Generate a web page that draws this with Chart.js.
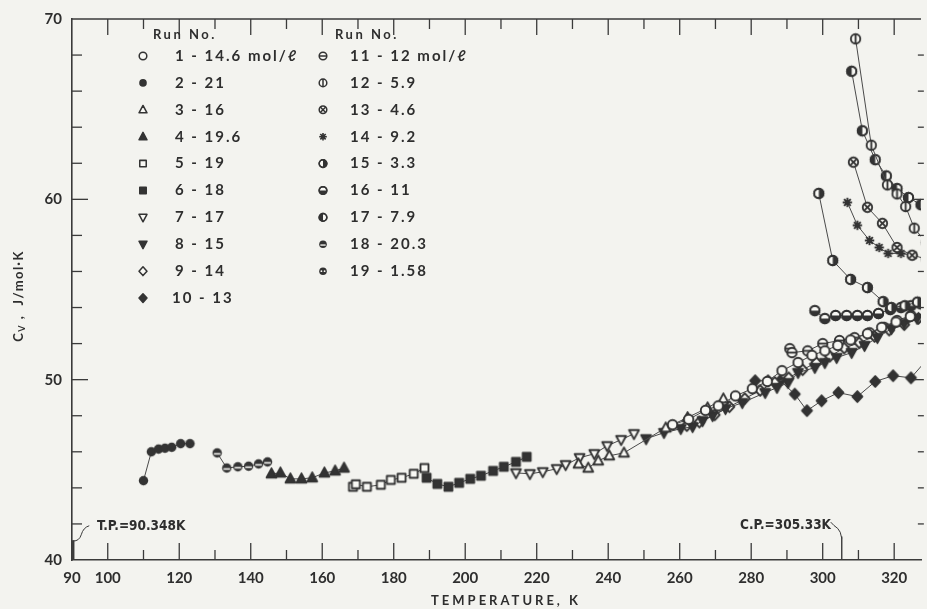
<!DOCTYPE html>
<html>
<head>
<meta charset="utf-8">
<script src="https://cdn.jsdelivr.net/npm/chart.js@4.4.0/dist/chart.umd.min.js"></script>
<style>
  html, body { margin: 0; padding: 0; background: #f3f3ef; }
</style>
</head>
<body>
<canvas id="grafico" width="927" height="609"></canvas>
<script>
// Cv of ethane along isochores; each run is [T (K), Cv (J/mol K)]
const run1 = [[258.0,47.5],[262.5,47.8],[267.2,48.3],[270.8,48.55],[275.6,49.1],[280.3,49.5],[284.5,49.9],[288.6,50.5],[293.1,50.95],[297.0,51.35],[300.6,51.6],[304.2,51.9],[307.8,52.2],[312.5,52.55],[316.5,52.9],[320.5,53.2],[324.5,53.5]];
const run2 = [[110.0,44.4],[112.2,46.0],[114.2,46.15],[116.0,46.2],[117.9,46.25],[120.4,46.45],[123.0,46.45]];
const run3 = [[231.7,45.33],[234.4,45.1],[237.2,45.5],[240.3,45.78],[244.4,45.94],[256.1,47.33],[262.2,47.9],[267.8,48.44],[272.2,48.94]];
const run4 = [[145.8,44.78],[148.3,44.83],[151.1,44.5],[154.2,44.5],[157.2,44.56],[160.6,44.83],[163.6,44.94],[166.1,45.1]];
const run5 = [[168.6,44.06],[169.4,44.2],[172.5,44.06],[176.4,44.17],[179.2,44.44],[182.2,44.56],[185.6,44.78],[188.6,45.1]];
const run6 = [[189.2,44.56],[192.2,44.22],[195.3,44.06],[198.3,44.28],[201.4,44.5],[204.4,44.67],[207.8,44.94],[210.8,45.17],[214.2,45.44],[217.2,45.72]];
const run7 = [[214.2,44.83],[218.1,44.78],[221.7,44.89],[225.6,45.06],[228.1,45.28],[232.0,45.67],[236.1,45.89],[239.7,46.33],[243.6,46.67],[247.2,47.0]];
const run8 = [[250.6,46.72],[255.6,47.06],[260.3,47.28],[263.6,47.39],[266.4,47.72],[269.2,48.0],[272.8,48.39],[277.5,48.72],[283.9,49.28],[287.2,49.56],[290.3,49.83],[293.1,50.39],[297.8,50.67],[300.6,50.94],[303.9,51.22],[308.1,51.5],[311.7,51.89],[315.3,52.33],[319.2,52.83],[322.8,53.11],[326.4,53.39]];
const run9 = [[262.0,47.45],[265.5,47.65],[269.8,48.05],[273.9,48.5],[278.2,48.95],[282.5,49.4],[286.6,49.85],[290.5,50.1],[294.4,50.55],[298.2,50.95],[302.0,51.3],[306.0,51.75],[310.2,52.05],[314.5,52.4],[318.6,52.75],[322.8,53.05],[326.8,53.4]];
const run10 = [[281.1,49.94],[284.7,49.94],[288.1,49.94],[292.2,49.2],[295.6,48.28],[299.7,48.83],[304.4,49.28],[309.7,49.06],[314.7,49.9],[319.7,50.22],[324.7,50.1],[330.0,51.3]];
const run11 = [[290.8,51.72],[291.4,51.5],[295.8,51.6],[300.0,52.0],[304.7,52.17],[308.9,52.33],[313.1,52.6],[317.2,52.9],[320.8,53.28],[324.7,53.56]];
const run12 = [[309.2,68.9],[313.6,63.0],[318.1,60.8],[320.8,60.3],[323.2,59.6],[325.6,58.4],[329.0,57.6]];
const run13 = [[308.6,62.06],[312.5,59.56],[316.7,58.67],[320.8,57.33],[325.0,56.9],[329.0,56.7]];
const run14 = [[306.9,59.83],[309.7,58.56],[313.1,57.72],[315.8,57.33],[318.3,57.0],[321.9,57.0],[325.3,56.9]];
const run15 = [[298.9,60.33],[302.8,56.61],[307.8,55.56],[312.5,55.11],[316.9,54.33],[319.2,54.0],[323.0,54.1],[326.5,54.3]];
const run16 = [[297.8,53.83],[300.6,53.39],[303.6,53.56],[306.7,53.56],[309.7,53.56],[312.5,53.56],[315.6,53.67],[318.9,53.89],[321.9,54.0],[324.7,54.1],[327.5,54.2]];
const run17 = [[308.1,67.1],[311.1,63.8],[314.7,62.2],[317.8,61.3],[320.8,60.6],[324.0,60.1],[327.5,59.7]];
const run18 = [[130.6,45.94],[133.3,45.1],[136.4,45.17],[139.4,45.2],[142.2,45.33],[144.7,45.44]];
const run19 = [];

const runLabels = ['1 - 14.6 mol/ℓ', '2 - 21', '3 - 16', '4 - 19.6', '5 - 19', '6 - 18', '7 - 17', '8 - 15', '9 - 14', '10 - 13',
                   '11 - 12 mol/ℓ', '12 - 5.9', '13 - 4.6', '14 - 9.2', '15 - 3.3', '16 - 11', '17 - 7.9', '18 - 20.3', '19 - 1.58'];
const markerKinds = ['circleOpen', 'circleFilled', 'triOpen', 'triFilled', 'squareOpen', 'squareFilled', 'triDownOpen', 'triDownFilled',
                     'diamondOpen', 'diamondFilled', 'thetaH', 'thetaV', 'crossed', 'star', 'halfRight', 'halfBottom', 'halfLeft', 'stripe', 'dotted'];

const xTicks = [90,100,110,120,130,140,150,160,170,180,190,200,210,220,230,240,250,260,270,280,290,300,310,320];
const xLabels = [90,100,120,140,160,180,200,220,240,260,280,300,320];
const yTicks = [40,42,44,46,48,50,52,54,56,58,60,62,64,66,68,70];
const yLabels = [40,50,60,70];

const TRIPLE_T = 90.348;
const CRIT_T = 305.33;

const INK = '#333333';
const LINE = '#4a4a4a';
const PAPER = '#f8f8f4';
const BG = '#f3f3ef';
const AXIS = '#3a3a3a';
const TEXT = '#2e2e2e';

function drawMarker(g, kind, cx, cy, r) {
    g.save();
    g.strokeStyle = INK;
    g.fillStyle = INK;
    g.lineJoin = 'round';
    g.lineWidth = Math.max(1.3, r * 0.4);

    const circle = () => { g.beginPath(); g.arc(cx, cy, r, 0, Math.PI * 2); g.closePath(); };
    const half = (a0, a1) => { g.beginPath(); g.moveTo(cx, cy); g.arc(cx, cy, r, a0, a1); g.closePath(); g.fillStyle = INK; g.fill(); };
    const seg = (x0, y0, x1, y1) => { g.beginPath(); g.moveTo(x0, y0); g.lineTo(x1, y1); g.stroke(); };
    const poly = (pts, open) => {
        g.beginPath();
        pts.forEach((p, i) => i ? g.lineTo(cx + p[0] * r, cy + p[1] * r) : g.moveTo(cx + p[0] * r, cy + p[1] * r));
        g.closePath();
        g.fillStyle = open ? PAPER : INK;
        g.fill();
        g.stroke();
    };
    const openCircle = () => { circle(); g.fillStyle = PAPER; g.fill(); g.stroke(); };

    const triUp = [[0, -1.15], [1.05, 0.8], [-1.05, 0.8]];
    const triDown = [[0, 1.15], [1.05, -0.8], [-1.05, -0.8]];
    const square = [[-0.85, -0.85], [0.85, -0.85], [0.85, 0.85], [-0.85, 0.85]];
    const diamond = [[0, -1.15], [1.05, 0], [0, 1.15], [-1.05, 0]];

    switch (kind) {
        case 'circleOpen': openCircle(); break;
        case 'circleFilled': circle(); g.fill(); break;
        case 'triOpen': poly(triUp, true); break;
        case 'triFilled': poly(triUp, false); break;
        case 'squareOpen': poly(square, true); break;
        case 'squareFilled': poly(square, false); break;
        case 'triDownOpen': poly(triDown, true); break;
        case 'triDownFilled': poly(triDown, false); break;
        case 'diamondOpen': poly(diamond, true); break;
        case 'diamondFilled': poly(diamond, false); break;
        case 'thetaH': openCircle(); seg(cx - r, cy, cx + r, cy); break;
        case 'thetaV': openCircle(); seg(cx, cy - r, cx, cy + r); break;
        case 'crossed': {
            openCircle();
            const k = r * 0.72;
            seg(cx - k, cy - k, cx + k, cy + k);
            seg(cx - k, cy + k, cx + k, cy - k);
            break;
        }
        case 'star': {
            g.lineWidth = Math.max(1.3, r * 0.42);
            for (let i = 0; i < 8; i++) {
                const a = i * Math.PI / 4;
                seg(cx, cy, cx + Math.cos(a) * r, cy + Math.sin(a) * r);
            }
            g.beginPath(); g.arc(cx, cy, r * 0.55, 0, Math.PI * 2); g.fill();
            break;
        }
        case 'halfRight': openCircle(); half(-Math.PI / 2, Math.PI / 2); circle(); g.stroke(); break;
        case 'halfBottom': openCircle(); half(0, Math.PI); circle(); g.stroke(); break;
        case 'halfLeft': openCircle(); half(Math.PI / 2, Math.PI * 1.5); circle(); g.stroke(); break;
        case 'stripe':
            circle(); g.fill();
            g.strokeStyle = PAPER; g.lineWidth = Math.max(1, r * 0.35);
            seg(cx - r * 0.7, cy + r * 0.2, cx + r * 0.7, cy + r * 0.2);
            break;
        case 'dotted':
            circle(); g.fill();
            g.fillStyle = PAPER;
            g.beginPath(); g.arc(cx - r * 0.42, cy, r * 0.24, 0, Math.PI * 2); g.fill();
            g.beginPath(); g.arc(cx + r * 0.42, cy, r * 0.24, 0, Math.PI * 2); g.fill();
            break;
    }
    g.restore();
}

function makeMarker(kind, r) {
    const size = Math.ceil(r * 2.6 + 4);
    const c = document.createElement('canvas');
    c.width = size;
    c.height = size;
    drawMarker(c.getContext('2d'), kind, size / 2, size / 2, r);
    return c;
}

const runs = [run1, run2, run3, run4, run5, run6, run7, run8, run9, run10,
              run11, run12, run13, run14, run15, run16, run17, run18, run19];

const datasets = runs.map((pts, i) => ({
    label: runLabels[i],
    data: pts.map(p => ({ x: p[0], y: p[1] })),
    showLine: true,
    borderColor: LINE,
    borderWidth: 1,
    pointStyle: makeMarker(markerKinds[i], 4.7),
    pointRadius: 5,
    pointHoverRadius: 5
}));

function line(ctx, x0, y0, x1, y1) {
    ctx.beginPath();
    ctx.moveTo(x0, y0);
    ctx.lineTo(x1, y1);
    ctx.stroke();
}

const paper = {
    id: 'paper',
    beforeDraw(chart) {
        const ctx = chart.ctx;
        ctx.save();
        ctx.fillStyle = BG;
        ctx.fillRect(0, 0, chart.width, chart.height);
        ctx.restore();
    }
};

const frame = {
    id: 'frame',
    afterDraw(chart) {
        const ctx = chart.ctx;
        const xs = chart.scales.x, ys = chart.scales.y, a = chart.chartArea;
        ctx.save();
        ctx.strokeStyle = AXIS;
        ctx.lineWidth = 1.5;

        // top border
        line(ctx, a.left, a.top, a.right, a.top);

        // inward ticks, bottom and top
        ctx.lineWidth = 1.3;
        xTicks.forEach(v => {
            if (v === 90) return;
            const px = xs.getPixelForValue(v);
            const major = v % 20 === 0 || v === 100;
            line(ctx, px, a.bottom, px, a.bottom - (major ? 17 : 10));
            line(ctx, px, a.top, px, a.top + (major ? 16 : 10));
        });

        // inward ticks on the left; the right axis sits just past the edge
        const rx = xs.getPixelForValue(328.3);
        yTicks.forEach(v => {
            if (v === 40 || v === 70) return;
            const py = ys.getPixelForValue(v);
            const major = v % 10 === 0;
            line(ctx, a.left, py, a.left + (major ? 16 : 10), py);
            line(ctx, rx, py, rx - (major ? 10 : 6), py);
        });

        // triple point and critical point marks
        const tpx = xs.getPixelForValue(TRIPLE_T);
        ctx.lineWidth = 2.4;
        line(ctx, tpx, a.bottom, tpx, ys.getPixelForValue(41.1));
        ctx.lineWidth = 1;
        ctx.beginPath();
        ctx.moveTo(tpx, ys.getPixelForValue(41.05));
        ctx.quadraticCurveTo(tpx + 6, ys.getPixelForValue(41.05), tpx + 8, ys.getPixelForValue(41.4));
        ctx.quadraticCurveTo(tpx + 10, ys.getPixelForValue(41.8), tpx + 16, ys.getPixelForValue(41.9));
        ctx.stroke();

        const cpx = xs.getPixelForValue(CRIT_T);
        ctx.lineWidth = 1.4;
        line(ctx, cpx, a.bottom, cpx, ys.getPixelForValue(41.3));
        ctx.lineWidth = 1;
        ctx.beginPath();
        ctx.moveTo(cpx, ys.getPixelForValue(41.2));
        ctx.quadraticCurveTo(cpx - 1, ys.getPixelForValue(41.6), cpx - 4, ys.getPixelForValue(41.75));
        ctx.quadraticCurveTo(cpx - 8, ys.getPixelForValue(41.9), cpx - 11, ys.getPixelForValue(42.1));
        ctx.stroke();

        ctx.fillStyle = TEXT;
        ctx.textBaseline = 'middle';
        ctx.textAlign = 'left';
        ctx.font = 'bold 13.5px "Liberation Sans Narrow", "DejaVu Sans Condensed", sans-serif';
        ctx.letterSpacing = '0px';
        ctx.fillText('T.P.=90.348K', 97, ys.getPixelForValue(41.85));
        ctx.fillText('C.P.=305.33K', 740, ys.getPixelForValue(41.9));

        // axis titles
        ctx.font = 'bold 13px Lato, sans-serif';
        ctx.letterSpacing = '3px';
        ctx.textAlign = 'center';
        ctx.fillText('TEMPERATURE, K', 506, 601);

        ctx.save();
        ctx.translate(19, 296);
        ctx.rotate(-Math.PI / 2);
        ctx.letterSpacing = '1.5px';
        ctx.textAlign = 'left';
        const big = 'bold 13px Lato, sans-serif', small = 'bold 9px Lato, sans-serif';
        ctx.font = big;
        const wC = ctx.measureText('C').width;
        const rest = ' ,  J/mol·K';
        const wR = ctx.measureText(rest).width;
        ctx.font = small;
        const wV = ctx.measureText('V').width;
        let x0 = -(wC + wV + wR) / 2;
        ctx.font = big;
        ctx.fillText('C', x0, 0);
        ctx.font = small;
        ctx.fillText('V', x0 + wC, 3);
        ctx.font = big;
        ctx.fillText(rest, x0 + wC + wV, 0);
        ctx.restore();

        // legend, two columns
        ctx.textAlign = 'left';
        ctx.font = 'bold 13px Lato, sans-serif';
        ctx.letterSpacing = '2.5px';
        ctx.fillText('Run No.', 153, 35);
        ctx.fillText('Run No.', 335, 35);
        ctx.font = 'bold 15px Lato, sans-serif';
        ctx.letterSpacing = '2px';
        runLabels.forEach((lab, i) => {
            const col = i < 10 ? 0 : 1;
            const row = col ? i - 10 : i;
            const y = 56 + row * 26.9;
            drawMarker(ctx, markerKinds[i], col ? 323 : 143, y, 3.8);
            ctx.fillStyle = TEXT;
            ctx.fillText(lab, col ? 350 : (i === 9 ? 172 : 175), y);
        });
        ctx.restore();
    }
};

new Chart('grafico', {
    type: 'scatter',
    data: { datasets: datasets },
    options: {
        responsive: false,
        animation: false,
        devicePixelRatio: 1,
        events: [],
        layout: { padding: { top: 19, left: 0, right: 0, bottom: 0 } },
        plugins: {
            legend: { display: false },
            tooltip: { enabled: false }
        },
        scales: {
            x: {
                type: 'linear',
                min: 90,
                max: 327.5,
                afterBuildTicks: s => { s.ticks = xTicks.map(v => ({ value: v })); },
                afterFit: s => { s.height = 49; },
                grid: { display: true, drawOnChartArea: false, drawTicks: false },
                border: { display: true, color: AXIS, width: 1.6 },
                ticks: {
                    autoSkip: false,
                    maxRotation: 0,
                    padding: 9,
                    color: TEXT,
                    font: { family: 'Lato', size: 15, weight: 'bold' },
                    callback: v => xLabels.includes(v) ? String(v) : ''
                }
            },
            y: {
                min: 40,
                max: 70,
                afterBuildTicks: s => { s.ticks = yTicks.map(v => ({ value: v })); },
                afterFit: s => { s.width = 72; },
                grid: { display: true, drawOnChartArea: false, drawTicks: false },
                border: { display: true, color: AXIS, width: 1.6 },
                ticks: {
                    padding: 10,
                    color: TEXT,
                    font: { family: 'Lato', size: 15, weight: 'bold' },
                    callback: v => yLabels.includes(v) ? String(v) : ''
                }
            }
        }
    },
    plugins: [paper, frame]
});
</script>
</body>
</html>
